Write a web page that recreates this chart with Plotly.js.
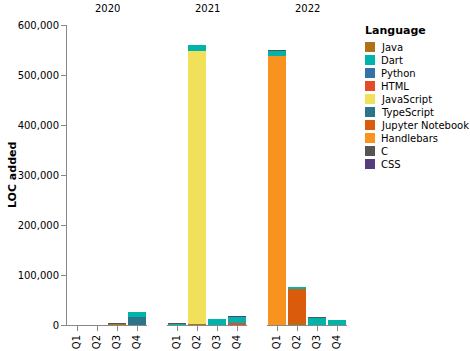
<!DOCTYPE html>
<html>
<head>
<meta charset="utf-8">
<script src="https://cdn.plot.ly/plotly-3.0.1.min.js"></script>
<style>html,body{margin:0;padding:0;background:#fff;}#chart{width:470px;height:351px;}</style>
</head>
<body>
<div id="chart"></div>
<script>
// ---- data ----
const years = ['2020', '2021', '2022'];
const quarters = ['Q1', 'Q2', 'Q3', 'Q4'];
// legend order
const languages = ['Java', 'Dart', 'Python', 'HTML', 'JavaScript', 'TypeScript', 'Jupyter Notebook', 'Handlebars', 'C', 'CSS'];
const languageColors = ['#b07219', '#00b4ab', '#3572a5', '#e34c26', '#f1e05a', '#2b7489', '#da5b0b', '#f7931e', '#555555', '#563d7c'];
// stack order, bottom to top
const stackOrder = ['Java', 'TypeScript', 'Python', 'HTML', 'Jupyter Notebook', 'JavaScript', 'Handlebars', 'Dart', 'CSS', 'C'];

// LOC added per quarter: 2020 Q1-Q4, 2021 Q1-Q4, 2022 Q1-Q4
const javaLoc       = [0, 0, 1500, 0,      0, 2000, 0, 0,        0, 3400, 0, 0];
const dartLoc       = [0, 0, 0, 10500,     2500, 12000, 11500, 13000,   11000, 4600, 15000, 11000];
const pythonLoc     = [0, 0, 0, 0,         0, 0, 0, 0,           0, 0, 0, 0];
const htmlLoc       = [0, 0, 0, 0,         0, 0, 0, 3500,        0, 0, 0, 0];
const javascriptLoc = [0, 0, 0, 0,         0, 546000, 0, 0,      0, 0, 0, 0];
const typescriptLoc = [0, 0, 0, 16000,     0, 0, 0, 0,           0, 0, 0, 0];
const jupyterLoc    = [0, 0, 0, 0,         0, 0, 0, 0,           0, 68600, 0, 0];
const handlebarsLoc = [0, 0, 0, 0,         0, 0, 0, 0,           538000, 0, 0, 0];
const cLoc          = [0, 0, 1800, 0,      600, 0, 0, 0,         700, 0, 1500, 0];
const cssLoc        = [0, 0, 0, 0,         0, 0, 0, 2500,        0, 0, 0, 0];

const locByLanguage = {
  'Java': javaLoc, 'Dart': dartLoc, 'Python': pythonLoc, 'HTML': htmlLoc,
  'JavaScript': javascriptLoc, 'TypeScript': typescriptLoc, 'Jupyter Notebook': jupyterLoc,
  'Handlebars': handlebarsLoc, 'C': cLoc, 'CSS': cssLoc
};

// ---- traces ----
const font = 'DejaVu Sans, sans-serif';
const traces = [];
stackOrder.forEach(lang => {
  const color = languageColors[languages.indexOf(lang)];
  years.forEach((yr, yi) => {
    traces.push({
      type: 'bar',
      name: lang,
      x: quarters,
      y: locByLanguage[lang].slice(yi * 4, yi * 4 + 4),
      xaxis: yi === 0 ? 'x' : 'x' + (yi + 1),
      yaxis: 'y',
      marker: {color: color, line: {width: 0}},
      showlegend: false,
      hovertemplate: yr + ' %{x}<br>' + lang + ': %{y:,}<extra></extra>'
    });
  });
});

// ---- layout ----
const W = 470, H = 351;
const plotL = 67, plotR = 347, plotT = 25, plotB = 325;
const pw = plotR - plotL, ph = plotB - plotT;
const px2x = p => (p - plotL) / pw;
const px2y = p => (plotB - p) / ph;

const panelWidth = 80, panelGap = 20;
const domains = years.map((_, i) => [px2x(plotL + i * (panelWidth + panelGap)), px2x(plotL + i * (panelWidth + panelGap) + panelWidth)]);

function xAxis(i) {
  return {
    domain: domains[i],
    anchor: 'y',
    type: 'category',
    categoryorder: 'array',
    categoryarray: quarters,
    range: [-0.5, 3.5],
    showline: true, linecolor: '#888', linewidth: 1,
    ticks: 'outside', ticklen: 5, tickcolor: '#888', tickwidth: 1,
    tickangle: -90,
    tickfont: {family: font, size: 10, color: '#000'},
    showgrid: false, zeroline: false, automargin: false, fixedrange: true
  };
}

const annotations = [];
const shapes = [];
years.forEach((yr, i) => {
  annotations.push({
    text: yr, xref: 'paper', yref: 'paper',
    x: (domains[i][0] + domains[i][1]) / 2, y: 1,
    xanchor: 'center', yanchor: 'bottom', yshift: 9, showarrow: false,
    font: {family: font, size: 10, color: '#000'}
  });
});

// y-axis title
annotations.push({
  text: 'LOC added', xref: 'paper', yref: 'paper',
  x: px2x(12), y: 0.5, xanchor: 'center', yanchor: 'middle', textangle: -90, showarrow: false,
  font: {family: font, size: 11, color: '#000', weight: 'bold'}
});

// legend
annotations.push({
  text: 'Language', xref: 'paper', yref: 'paper',
  x: px2x(363), y: px2y(30), xanchor: 'left', yanchor: 'middle', showarrow: false,
  font: {family: font, size: 11, color: '#000', weight: 'bold'}
});
languages.forEach((lang, i) => {
  const cy = 47 + 13 * i;
  shapes.push({
    type: 'rect', xref: 'paper', yref: 'paper',
    x0: px2x(365), x1: px2x(375), y0: px2y(cy + 5), y1: px2y(cy - 5),
    fillcolor: languageColors[i], line: {width: 0}
  });
  annotations.push({
    text: lang, xref: 'paper', yref: 'paper',
    x: px2x(379), y: px2y(cy), xanchor: 'left', yanchor: 'middle', showarrow: false,
    font: {family: font, size: 10, color: '#000'}
  });
});

const layout = {
  width: W, height: H,
  margin: {l: plotL, r: W - plotR, t: plotT, b: H - plotB, pad: 0},
  paper_bgcolor: '#fff', plot_bgcolor: '#fff',
  barmode: 'stack', bargap: 0.1,
  font: {family: font, size: 10, color: '#000'},
  showlegend: false,
  xaxis: xAxis(0), xaxis2: xAxis(1), xaxis3: xAxis(2),
  yaxis: {
    domain: [0, 1], anchor: 'x',
    range: [0, 600000], dtick: 100000, tickformat: ',',
    showline: true, linecolor: '#888', linewidth: 1,
    ticks: 'outside', ticklen: 5, tickcolor: '#888', tickwidth: 1,
    tickfont: {family: font, size: 10, color: '#000'},
    showgrid: false, zeroline: false, automargin: false, fixedrange: true
  },
  annotations: annotations,
  shapes: shapes
};

Plotly.newPlot('chart', traces, layout, {displayModeBar: false, staticPlot: true});
</script>
</body>
</html>
